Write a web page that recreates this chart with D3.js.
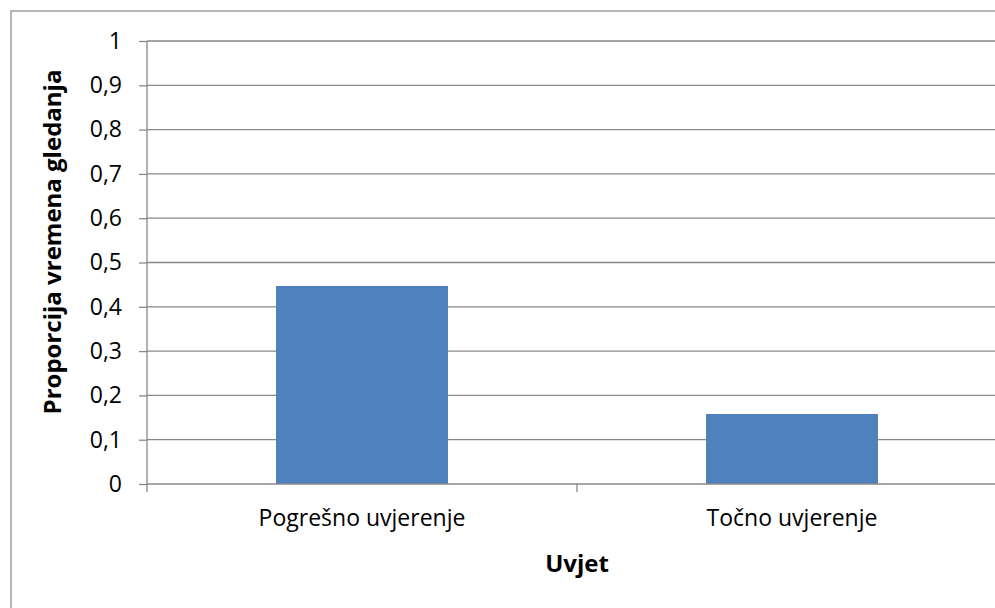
<!DOCTYPE html>
<html><head><meta charset="utf-8">
<script src="https://cdn.jsdelivr.net/npm/d3@7"></script>
<style>html,body{margin:0;padding:0;background:#fff;overflow:hidden}</style>
</head><body>
<svg id="c" width="995" height="608"></svg>
<script>
const categories = ["Pogrešno uvjerenje", "Točno uvjerenje"];
const values = [0.447, 0.158];
const yTicks = [0, 0.1, 0.2, 0.3, 0.4, 0.5, 0.6, 0.7, 0.8, 0.9, 1];
const yTitle = "Proporcija vremena gledanja";
const xTitle = "Uvjet";

const svg = d3.select("#c");
const font = "'Open Sans', sans-serif";
const L = 147, R = 1007, T = 41, B = 484;

svg.append("rect").attr("x", 11).attr("y", 11).attr("width", 1100).attr("height", 700)
  .attr("fill", "#fff").attr("stroke", "#888").attr("stroke-width", 1.2);

const xo = d3.scaleBand().domain(categories).range([L, R]);
const y = d3.scaleLinear().domain([0, 1]).range([B, T]);

// gridlines
svg.append("g").selectAll("line").data(yTicks.filter(d => d > 0)).join("line")
  .attr("x1", L).attr("x2", R).attr("y1", d => y(d)).attr("y2", d => y(d))
  .attr("stroke", "#888").attr("stroke-width", 1.3);

// bars
svg.append("g").selectAll("rect").data(values).join("rect")
  .attr("x", (d, i) => xo(categories[i]) + xo.bandwidth() * 0.3).attr("width", xo.bandwidth() * 0.4)
  .attr("y", d => y(d)).attr("height", d => y(0) - y(d))
  .attr("fill", "#4F81BD");

// y axis
const ya = svg.append("g").attr("transform", `translate(${L},0)`)
  .call(d3.axisLeft(y).tickValues(yTicks).tickSize(8).tickPadding(17)
    .tickFormat(d => d3.format(".1~f")(d).replace(".", ",")));
ya.select(".domain").attr("stroke", "#888").attr("stroke-width", 1.3).attr("d", `M0,${T}V${B}`);
ya.selectAll(".tick line").attr("stroke", "#888").attr("stroke-width", 1.3);
ya.selectAll(".tick text").attr("font-family", font).attr("font-size", 23).attr("fill", "#000");

// x axis
const xa = svg.append("g").attr("transform", `translate(0,${B})`)
  .call(d3.axisBottom(xo).tickSize(0).tickPadding(26));
xa.select(".domain").attr("stroke", "#888").attr("stroke-width", 1.3).attr("d", `M${L},0H${R}`);
xa.selectAll(".tick text").attr("font-family", font).attr("font-size", 23).attr("fill", "#000");
// x tick marks at band boundaries
svg.append("g").selectAll("line").data([L, xo(categories[1])]).join("line")
  .attr("x1", d => d).attr("x2", d => d).attr("y1", B).attr("y2", B + 8)
  .attr("stroke", "#888").attr("stroke-width", 1.3);

// titles
svg.append("text").attr("x", xo(categories[1])).attr("y", 572).attr("text-anchor", "middle")
  .attr("font-family", font).attr("font-weight", "bold").attr("font-size", 24).text(xTitle);
svg.append("text").attr("transform", `translate(61,242) rotate(-90)`)
  .attr("text-anchor", "middle").attr("font-family", font).attr("font-weight", "bold")
  .attr("font-size", 24).text(yTitle);
</script>
</body></html>
